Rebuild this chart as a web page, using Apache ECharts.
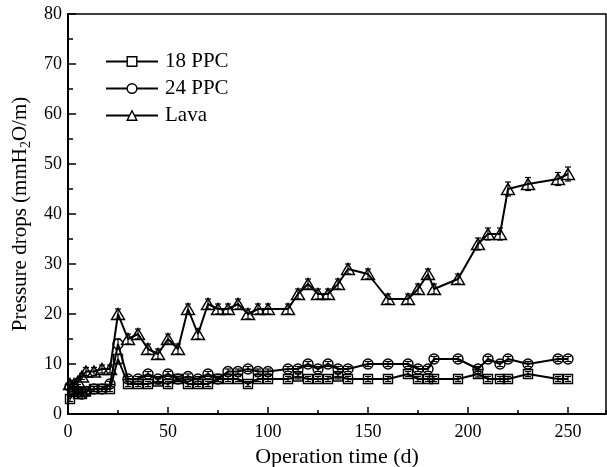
<!DOCTYPE html>
<html><head><meta charset="utf-8">
<script src="https://cdn.jsdelivr.net/npm/echarts@6/dist/echarts.min.js"></script>
<style>html,body{margin:0;padding:0;background:#fff}#c{width:607px;height:467px}</style>
</head><body><div id="c"></div>
<script>
const days   = [1,3,5,7,9,13,17,21,25,30,35,40,45,50,55,60,65,70,75,80,85,90,95,100,110,115,120,125,130,135,140,150,160,170,175,180,183,195,205,210,216,220,230,245,250];
const ppc18  = [3,4.5,4,4,4.5,5,5,5,11,6,6,6,6.5,6,7,6,6,6,7,7,7,6,7,7,7,7.5,7,7,7,7.5,7,7,7,8,7,7,7,7,8,7,7,7,8,7,7];
const ppc24  = [5.5,5,4.5,4,4.5,5,5,6,14,7,7,8,7,8,7,7.5,7,8,7,8.5,8.5,9,8.5,8.5,9,9,10,9,10,9,9,10,10,10,9,9,11,11,9,11,10,11,10,11,11];
const lava   = [6,6,6.5,7.5,8.5,8.5,9,9,20,15,16,13,12,15,13,21,16,22,21,21,22,20,21,21,21,24,26,24,24,26,29,28,23,23,25,28,25,27,34,36,36,45,46,47,48];
const err18  = [0.5,0.5,0.5,0.5,0.5,0.5,0.5,0.5,1,0.5,0.5,0.5,0.5,0.5,0.5,0.5,0.5,0.5,0.5,0.5,0.5,0.5,0.5,0.5,0.5,0.5,0.5,0.5,0.5,0.5,0.5,0.5,0.5,0.5,0.5,0.5,0.5,0.5,0.6,0.5,0.5,0.5,0.5,0.5,0.5];
const err24  = [0.5,0.5,0.5,0.5,0.5,0.5,0.5,0.5,1,0.5,0.5,0.5,0.5,0.5,0.5,0.5,0.5,0.5,0.5,0.5,0.5,0.5,0.5,0.5,0.5,0.5,0.5,0.5,0.5,0.5,0.5,0.5,0.5,0.5,0.5,0.5,0.5,0.5,0.5,0.5,0.5,0.5,0.5,0.5,0.5];
const errLava= [0.6,0.6,0.6,0.6,0.8,0.8,0.8,0.8,1,1,1,1,1,1,1,1,1,1,1,1,1,1,1,1,1,1,1,1,1,1,1,1,1,1,1,1,1,1,1.2,1.2,1.2,1.4,1.3,1.3,1.4];
const seriesNames = ['18 PPC','24 PPC','Lava'];
const xTitle = 'Operation time (d)';
const yTitle = 'Pressure drops (mmH{sub|2}O/m)';
const xTickLabels = ['0','50','100','150','200','250'];
const yTickLabels = ['0','10','20','30','40','50','60','70','80'];

const FONT = 'Liberation Serif';
const BLACK = '#000';

function lineSeries(name, vals, symbol, size) {
  return {
    name, type: 'line', xAxisIndex: 0, yAxisIndex: 0,
    data: days.map((d, i) => [d, vals[i]]),
    symbol, symbolSize: size, showSymbol: true,
    lineStyle: { color: BLACK, width: 2 },
    itemStyle: { color: 'transparent', borderColor: BLACK, borderWidth: 1.4 },
    emphasis: { disabled: true }, z: 3
  };
}
function errSeries(vals, errs) {
  return {
    type: 'custom', xAxisIndex: 0, yAxisIndex: 0, silent: true, z: 2,
    data: days.map((d, i) => [d, vals[i], errs[i]]),
    encode: { x: 0, y: 1 },
    renderItem: (params, api) => {
      const x = api.value(0), y = api.value(1), e = api.value(2);
      const lo = api.coord([x, y - e]), hi = api.coord([x, y + e]);
      const w = 3, st = { stroke: BLACK, lineWidth: 1.2 };
      return { type: 'group', children: [
        { type: 'line', shape: { x1: lo[0], y1: lo[1], x2: hi[0], y2: hi[1] }, style: st },
        { type: 'line', shape: { x1: lo[0]-w, y1: lo[1], x2: lo[0]+w, y2: lo[1] }, style: st },
        { type: 'line', shape: { x1: hi[0]-w, y1: hi[1], x2: hi[0]+w, y2: hi[1] }, style: st }
      ]};
    }
  };
}

const chart = echarts.init(document.getElementById('c'), null, { renderer: 'canvas' });
chart.setOption({
  animation: false,
  backgroundColor: '#fff',
  grid: { left: 68, right: 1, top: 14, bottom: 53, containLabel: false, outerBoundsMode: 'none',
    show: true, borderColor: BLACK, borderWidth: 1.5, backgroundColor: 'transparent' },
  legend: {
    orient: 'vertical', left: 105, top: 51, padding: 0, itemWidth: 52, itemHeight: 12, itemGap: 6,
    data: seriesNames.map(n => ({ name: n, itemStyle: { color: '#fff', borderColor: BLACK, borderWidth: 1.4 } })),
    lineStyle: { color: BLACK, width: 2 },
    textStyle: { fontFamily: FONT, fontSize: 21, color: BLACK, padding: [0, 0, 0, 2] },
    selectedMode: false
  },
  xAxis: [{
    type: 'value', min: 0, max: 269, interval: 50,
    name: xTitle, nameLocation: 'middle', nameGap: 32,
    nameTextStyle: { fontFamily: FONT, fontSize: 22, color: BLACK },
    axisLine: { show: true, onZero: false, lineStyle: { color: BLACK, width: 2 } },
    axisTick: { show: true, inside: true, length: 7, lineStyle: { color: BLACK, width: 1.5 } },
    axisLabel: { showMaxLabel: false, margin: 9, fontFamily: FONT, fontSize: 18, color: BLACK,
      formatter: v => { const i = xTickLabels.indexOf(String(v)); return i >= 0 ? xTickLabels[i] : ''; } },
    splitLine: { show: false }
  }, {
    type: 'value', min: 0, max: 269, interval: 25, position: 'bottom',
    axisLine: { show: false }, axisLabel: { show: false }, splitLine: { show: false },
    axisTick: { show: true, inside: true, length: 4, lineStyle: { color: BLACK, width: 1.5 } }
  }],
  yAxis: {
    type: 'value', min: 0, max: 80, interval: 10,
    name: yTitle, nameLocation: 'middle', nameGap: 34, nameRotate: 90,
    nameTextStyle: { fontFamily: FONT, fontSize: 21, color: BLACK,
      rich: { sub: { fontFamily: FONT, fontSize: 14, color: BLACK, padding: [12, 0, 0, 0] } } },
    axisLine: { show: true, onZero: false, lineStyle: { color: BLACK, width: 2 } },
    axisTick: { show: true, inside: true, length: 8, lineStyle: { color: BLACK, width: 1.5 } },
    minorTick: { show: true, splitNumber: 2, length: 5, lineStyle: { color: BLACK, width: 1.5 } },
    axisLabel: { margin: 6, fontFamily: FONT, fontSize: 18, color: BLACK,
      formatter: v => { const i = yTickLabels.indexOf(String(v)); return i >= 0 ? yTickLabels[i] : ''; } },
    splitLine: { show: false }
  },
  series: [
    errSeries(ppc18, err18), errSeries(ppc24, err24), errSeries(lava, errLava),
    lineSeries(seriesNames[0], ppc18, 'rect', 9),
    lineSeries(seriesNames[1], ppc24, 'circle', 10),
    lineSeries(seriesNames[2], lava, 'triangle', [13, 11])
  ]
});
</script></body></html>
